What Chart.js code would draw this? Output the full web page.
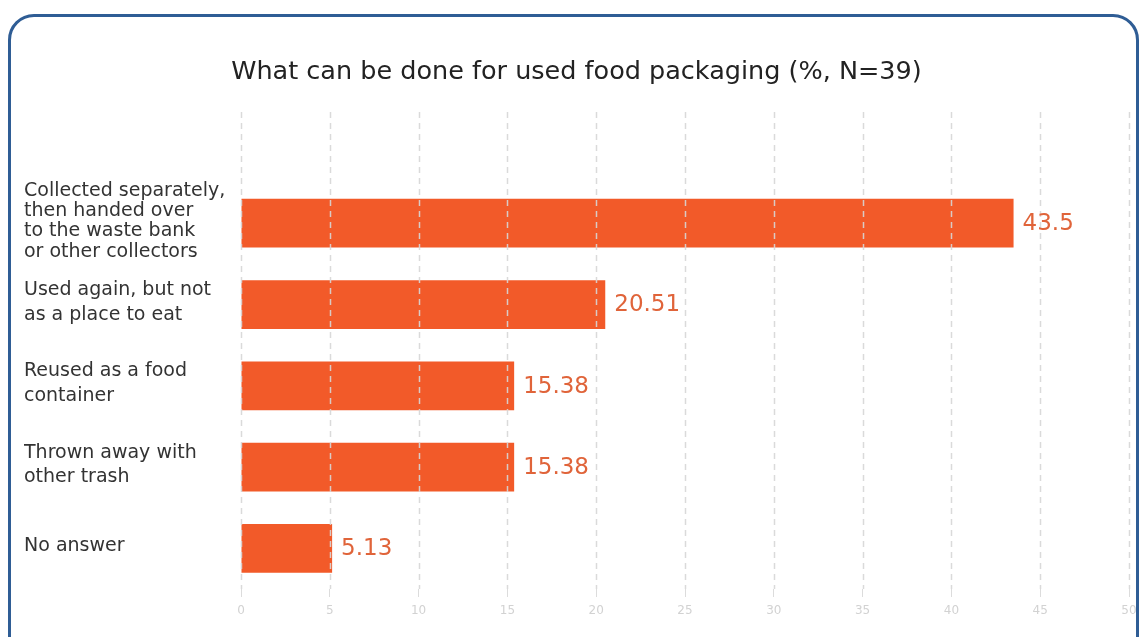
<!DOCTYPE html>
<html>
<head>
<meta charset="utf-8">
<title>Used food packaging</title>
<script src="https://cdn.jsdelivr.net/npm/chart.js@4.4.1/dist/chart.umd.min.js"></script>
<style>
  html, body { margin: 0; padding: 0; background: #fff; overflow: hidden; }
  body { width: 1140px; height: 637px; position: relative; }
  .frame {
    position: absolute; left: 8px; top: 14px;
    width: 1131px; height: 700px;
    border: 3px solid #2f5d95; border-radius: 26px;
    box-sizing: border-box;
  }
  .wrap { position: absolute; left: 20px; top: 0; width: 1128px; height: 637px; }
</style>
</head>
<body>
<div class="frame"></div>
<div class="wrap"><canvas id="packagingChart"></canvas></div>
<script>
const chartTitle = 'What can be done for used food packaging (%, N=39)';
const categories = [
  ['Collected separately,', 'then handed over', 'to the waste bank', 'or other collectors'],
  ['Used again, but not', 'as a place to eat'],
  ['Reused as a food', 'container'],
  ['Thrown away with', 'other trash'],
  ['No answer']
];
const shares = [43.5, 20.51, 15.38, 15.38, 5.13];
const xTicks = [0, 5, 10, 15, 20, 25, 30, 35, 40, 45, 50];

const FONT = '"DejaVu Sans", Verdana, sans-serif';
const GRID_TOP = 112;

// dashed vertical grid, drawn over the bars and reaching up under the title
const dashedGrid = {
  id: 'dashedGrid',
  afterDatasetsDraw(chart) {
    const { ctx, chartArea, scales: { x } } = chart;
    ctx.save();
    ctx.strokeStyle = 'rgba(214, 214, 214, 0.9)';
    ctx.lineWidth = 1.5;
    ctx.setLineDash([6, 5]);
    x.ticks.forEach(t => {
      const px = Math.round(x.getPixelForValue(t.value)) + 0.5;
      ctx.beginPath();
      ctx.moveTo(px, GRID_TOP);
      ctx.lineTo(px, chartArea.bottom);
      ctx.stroke();
    });
    ctx.restore();
  }
};

// value printed just past the end of each bar
const valueLabels = {
  id: 'valueLabels',
  afterDatasetsDraw(chart) {
    const { ctx } = chart;
    const meta = chart.getDatasetMeta(0);
    ctx.save();
    ctx.font = '23px ' + FONT;
    ctx.fillStyle = '#e0643a';
    ctx.textBaseline = 'middle';
    ctx.textAlign = 'left';
    meta.data.forEach((bar, i) => {
      ctx.fillText(String(shares[i]), bar.x + 9, bar.y + 1);
    });
    ctx.restore();
  }
};

new Chart(document.getElementById('packagingChart'), {
  type: 'bar',
  data: {
    labels: categories,
    datasets: [{
      data: shares,
      backgroundColor: '#f25a29',
      borderWidth: 0,
      categoryPercentage: 1,
      barPercentage: 0.6
    }]
  },
  options: {
    indexAxis: 'y',
    responsive: true,
    maintainAspectRatio: false,
    animation: false,
    layout: { padding: { left: 4, right: 19, top: 0, bottom: 0 } },
    plugins: {
      legend: { display: false },
      tooltip: { enabled: false },
      title: {
        display: true,
        text: chartTitle,
        color: '#222',
        font: { family: FONT, size: 25.5, weight: 'normal', lineHeight: 1.2 },
        padding: { top: 57, bottom: 95 }
      }
    },
    scales: {
      x: {
        min: 0,
        max: 50,
        afterBuildTicks: s => { s.ticks = xTicks.map(v => ({ value: v })); },
        afterFit: s => { s.height = 48; },
        border: { display: false },
        grid: {
          drawOnChartArea: false,
          drawTicks: true,
          tickLength: 8,
          color: '#dcdcdc'
        },
        ticks: {
          color: '#d2d2d2',
          font: { family: FONT, size: 12 },
          padding: 7,
          maxRotation: 0
        }
      },
      y: {
        afterFit: s => { s.width = 217; },
        border: { display: false },
        grid: { display: false },
        ticks: {
          autoSkip: false,
          crossAlign: 'far',
          color: '#333',
          padding: 0,
          labelOffset: -2,
          // the four-line label is set tighter than the two-line ones
          font: c => ({ family: FONT, size: 19, lineHeight: c.index === 0 ? 1.07 : 1.3 })
        }
      }
    }
  },
  plugins: [dashedGrid, valueLabels]
});
</script>
</body>
</html>
